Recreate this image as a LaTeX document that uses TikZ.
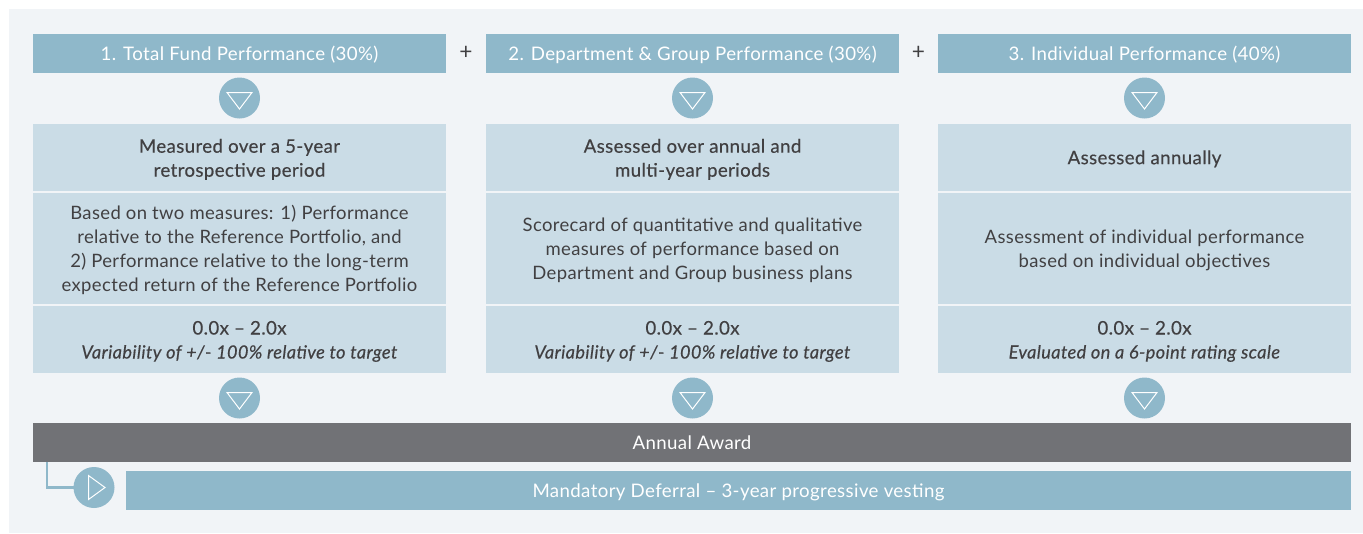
\documentclass[tikz,border=0pt]{standalone}
\usepackage{fontspec}
\setmainfont{Lato}[LetterSpace=2.0]
\usetikzlibrary{positioning,calc}
\definecolor{bgc}{HTML}{F1F4F7}
\definecolor{headc}{HTML}{8FB8CA}
\definecolor{bandc}{HTML}{CADCE6}
\definecolor{darkc}{HTML}{717276}
\definecolor{textc}{HTML}{414042}
\newcommand{\semi}{\addfontfeature{FakeBold=0.35}}
\newcommand{\itl}[1]{{\fontsize{13.65}{18}\selectfont\semi\textit{#1}}}
\newcommand{\topT}{\rule{0pt}{14.3pt}}
\newcommand{\topB}{\rule{0pt}{13.3pt}}
\newcommand{\topR}{\rule{0pt}{14pt}}
\tikzset{
  x=0.75pt,y=-0.75pt,
  box/.style={inner sep=0pt,outer sep=0pt,align=center,font=\fontsize{14}{18}\selectfont,text=textc,
    execute at begin node={\rule{0pt}{13.5pt}},execute at end node={\rule[-3.5pt]{0pt}{0pt}}},
  headbox/.style={box,fill=headc,text=white,minimum height=29.25pt,minimum width=309.75pt},
  titlebox/.style={box,fill=bandc,minimum height=50.25pt,minimum width=309.75pt},
  bodybox/.style={box,fill=bandc,minimum height=83.25pt,minimum width=309.75pt,font=\fontsize{13.85}{18}\selectfont},
  rangebox/.style={box,fill=bandc,minimum height=50.25pt,minimum width=309.75pt},
  disc/.style={circle,fill=headc,inner sep=0pt,outer sep=0pt,minimum size=30.75pt},
  tri/.style={draw=white,line width=0.75pt,line join=miter},
  wide/.style={box,text=white,minimum height=29.25pt},
  plus/.style={inner sep=0pt,font=\fontsize{17}{18}\selectfont,text=textc},
  link/.style={draw=headc,line width=1.6pt}
}
\newcommand{\downtri}[1]{\draw[tri] ($(#1)+(-12.5,-5.5)$) -- ++(25,0) -- ++(-12.5,16.5) -- cycle;}
\begin{document}
\begin{tikzpicture}
\useasboundingbox (0,0) rectangle (1363,533);
\fill[white] (0,0) rectangle (1363,533);
\fill[bgc] (9,9) rectangle (1363,533);
% column 1
\node[headbox] (h1) at (239.5,53.5) {1. Total Fund Performance (30\%)};
\node[titlebox] (t1) at (239.5,157.5) {\topT\semi Measured over a 5-year\\\semi retrospective period};
\node[bodybox] (b1) at (239.5,248.5) {\topB Based on two measures: 1) Performance\\relative to the Reference Portfolio, and\\2) Performance relative to the long-term\\expected return of the Reference Portfolio};
\node[rangebox] (r1) at (239.5,339.5) {\topR\semi 0.0x – 2.0x\\\itl{Variability of +/- 100\% relative to target}};
% column 2
\node[headbox] (h2) at (692.5,53.5) {2. Department \& Group Performance (30\%)};
\node[titlebox] (t2) at (692.5,157.5) {\topT\semi Assessed over annual and\\\semi multi-year periods};
\node[bodybox] (b2) at (692.5,248.5) {\topB Scorecard of quantitative and qualitative\\measures of performance based on\\Department and Group business plans};
\node[rangebox] (r2) at (692.5,339.5) {\topR\semi 0.0x – 2.0x\\\itl{Variability of +/- 100\% relative to target}};
% column 3
\node[headbox] (h3) at (1144.5,53.5) {3. Individual Performance (40\%)};
\node[titlebox] (t3) at (1144.5,157.5) {\semi Assessed annually};
\node[bodybox] (b3) at (1144.5,248.5) {\topB Assessment of individual performance\\based on individual objectives};
\node[rangebox] (r3) at (1144.5,339.5) {\topR\semi 0.0x – 2.0x\\\itl{Evaluated on a 6-point rating scale}};
% plus signs
\node[plus] (p1) at (466,53) {+};
\node[plus] (p2) at (918.5,53) {+};
% discs
\foreach \n/\x in {u1/239.5,u2/692.5,u3/1144.5}{
  \node[disc] (\n) at (\x,98) {};
  \downtri{\n}
}
\foreach \n/\x in {d1/239.5,d2/692.5,d3/1144.5}{
  \node[disc] (\n) at (\x,398) {};
  \downtri{\n}
}
% bottom bars
\coordinate (elbow) at (47,462);
\node[disc] (c) at (94,487.5) {};
\draw[link] (elbow) |- (c);
\draw[tri] ($(c)+(-5.5,-12)$) -- ++(16.5,12) -- ++(-16.5,12) -- cycle;
\node[wide,fill=darkc,minimum width=988.5pt] (award) at (692,442.5) {Annual Award};
\node[wide,fill=headc,minimum width=918.75pt] (defer) at (738.5,490.5) {Mandatory Deferral – 3-year progressive vesting};
\end{tikzpicture}
\end{document}
